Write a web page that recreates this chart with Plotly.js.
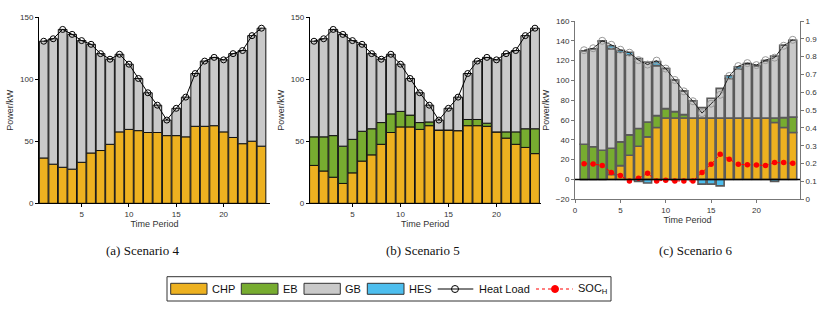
<!DOCTYPE html>
<html><head><meta charset="utf-8">
<script src="https://cdn.plot.ly/plotly-3.0.1.min.js"></script>
<style>html,body{margin:0;padding:0;background:#fff}#c{width:824px;height:311px}</style>
</head><body><div id="c"></div>
<script>
var periods = [1,2,3,4,5,6,7,8,9,10,11,12,13,14,15,16,17,18,19,20,21,22,23,24];
var heatLoad = [130.5,132.5,140,136,131,128,120.5,116,120,112,100.5,89,79,67,76.5,85.5,104.5,114.5,117.5,115.5,120.5,123,135,141];
// Scenario 4
var chp4 = [36.5,31.5,29,27.5,33,40.5,42.5,47.5,57.5,59.5,58.5,57,57,54.5,54.5,53.5,62,62,62.5,57.5,53,48,50,46];
var gb4  = [94,101,111,108.5,98,87.5,78,68.5,62.5,52.5,42,32,22,12.5,22,32,42.5,52.5,55,58,67.5,75,85,95];
// Scenario 5
var chp5 = [30.5,26,21,16,24.5,34,39,47.5,57,61.5,61.5,59.5,62.5,59,59,58.5,62.5,62.5,62,57.5,52.5,47.5,45,40];
var eb5  = [23,27.5,33.5,30,27,24,21,17.5,15,12.5,9.5,5.5,3,0,0,0,5,5,2.5,0,5,10,15,20];
var gb5  = [77,79,85.5,90,79.5,70,60.5,51,48,38,29.5,24,13.5,8,17.5,27,37,47,53,58,63,65.5,75,81];
// Scenario 6
var chp6 = [0,0,0,5,14,24.5,33.5,43,52.5,62,62,62,62,62,62,62,62,62,62,62,62,57.5,52.5,47.5];
var eb6  = [35.5,33,29.5,26.5,24,20.5,18,15,12,9.5,6.5,3.5,0,0,0,0,0,0,0,0,0,4.5,10,15.5];
var gb6  = [94.5,99,110,100.5,90.5,80.5,70.5,60.5,50.5,40.5,32,24,17.5,10.5,20,30,40,49.5,55,53,58,62.5,73,77.5];
var hes6 = [0,0,0.6,3,2,3,-2,-3.5,4,0,0,0,0,-4.7,-4.7,-6.4,2.7,2.3,0,0,0,-2,0,0];
var soc6 = [0.2,0.198,0.19,0.151,0.133,0.103,0.118,0.146,0.103,0.107,0.103,0.103,0.103,0.151,0.196,0.252,0.224,0.196,0.194,0.193,0.19,0.206,0.206,0.202];

var cCHP='#EDB120', cEB='#77AC30', cGB='#C9C9C9', cHES='#4DBEEE';
var edge12={color:'#111',width:1}, edge3={color:'#5a5a5a',width:1.6};
function bar(y,color,xa,ya,edge,w){return {type:'bar',x:periods,y:y,xaxis:xa,yaxis:ya,width:w,
  marker:{color:color,line:edge},showlegend:false,hoverinfo:'skip'};}
var data=[
  bar(chp4,cCHP,'x','y',edge12,0.92), bar(gb4,cGB,'x','y',edge12,0.92),
  {type:'scatter',mode:'lines+markers',x:periods,y:heatLoad,xaxis:'x',yaxis:'y',line:{color:'#000',width:1},
   marker:{symbol:'circle-open',size:6,color:'#000',line:{width:1}},showlegend:false},
  bar(chp5,cCHP,'x2','y2',edge12,0.92), bar(eb5,cEB,'x2','y2',edge12,0.92), bar(gb5,cGB,'x2','y2',edge12,0.92),
  {type:'scatter',mode:'lines+markers',x:periods,y:heatLoad,xaxis:'x2',yaxis:'y2',line:{color:'#000',width:1},
   marker:{symbol:'circle-open',size:6,color:'#000',line:{width:1}},showlegend:false},
  bar(chp6,cCHP,'x3','y3',edge3,0.88), bar(eb6,cEB,'x3','y3',edge3,0.88), bar(gb6,cGB,'x3','y3',edge3,0.88), bar(hes6,cHES,'x3','y3',edge3,0.88),
  {type:'scatter',mode:'lines+markers',x:periods,y:heatLoad,xaxis:'x3',yaxis:'y3',line:{color:'#222',width:1},
   marker:{symbol:'circle-open',size:7,color:'#999',line:{width:1}},showlegend:false},
  {type:'scatter',mode:'lines+markers',x:periods,y:soc6,xaxis:'x3',yaxis:'y4',line:{color:'#ff0000',width:1,dash:'dot'},
   marker:{symbol:'circle',size:5.5,color:'#ff0000'},showlegend:false}
];
function px(x){return x/824;} function py(y){return (311-y)/311;}
var tf={family:'Liberation Sans, Arial, sans-serif',size:8,color:'#333'};
var ttf={family:'Liberation Sans, Arial, sans-serif',size:9,color:'#333'};
function xax(dom,rng,anchor){return {domain:dom,range:rng,anchor:anchor,tickmode:'array',tickvals:[5,10,15,20],
  showline:true,linecolor:'#000',linewidth:1,ticks:'outside',ticklen:3,tickcolor:'#000',showgrid:false,zeroline:false,
  tickfont:tf,title:{text:'Time Period',font:ttf,standoff:2}};}
function yax(dom,rng,anchor,dt){return {domain:dom,range:rng,anchor:anchor,dtick:dt,showline:true,linecolor:'#000',linewidth:1,
  ticks:'outside',ticklen:3,tickcolor:'#000',showgrid:false,zeroline:false,tickfont:tf,title:{text:'Power/kW',font:ttf,standoff:4}};}
var ydom12=[py(203.3),py(17)], ydom3=[py(199.3),py(21)];
var layout={width:824,height:311,margin:{l:0,r:0,t:0,b:0},paper_bgcolor:'#fff',plot_bgcolor:'rgba(0,0,0,0)',
  barmode:'relative',bargap:0.05,showlegend:false,
  xaxis:xax([px(39),px(270)],[0.5,24.9],'y'),
  yaxis:yax(ydom12,[0,150],'x',50),
  xaxis2:xax([px(309.7),px(540.7)],[0.55,24.6],'y2'),
  yaxis2:yax(ydom12,[0,150],'x2',50),
  xaxis3:Object.assign(xax([px(575),px(800)],[0,24.8],'y3'),{tickvals:[0,5,10,15,20],linecolor:'#777',tickcolor:'#777'}),
  yaxis3:Object.assign(yax(ydom3,[-20,160],'x3',20),{linecolor:'#777',tickcolor:'#777'}),
  yaxis4:{domain:ydom3,range:[0,1],overlaying:'y3',anchor:'x3',side:'right',dtick:0.1,showline:true,linecolor:'#777',
    ticks:'outside',ticklen:3,tickcolor:'#777',showgrid:false,zeroline:false,tickfont:tf},
  shapes:[{type:'line',xref:'x3 domain',yref:'y3',x0:0,x1:1,y0:0,y1:0,line:{color:'#000',width:1.5},layer:'above'}],
  annotations:[]
};
var capF={family:'Liberation Serif, Times New Roman, serif',size:13,color:'#111'};
[['(a) Scenario 4',142],['(b) Scenario 5',423],['(c) Scenario 6',695]].forEach(function(c){
  layout.annotations.push({text:c[0],x:px(c[1]),y:py(250),xref:'paper',yref:'paper',showarrow:false,font:capF,xanchor:'center',yanchor:'middle'});});
// legend
var S=layout.shapes, A=layout.annotations;
S.push({type:'rect',xref:'paper',yref:'paper',x0:px(167),x1:px(611),y0:py(301),y1:py(276.7),line:{color:'#333',width:1},fillcolor:'#fff'});
var lf={family:'Liberation Sans, Arial, sans-serif',size:11,color:'#111'};
[[cCHP,170.7,207,'CHP',210],[cEB,241.3,278,'EB',280.7],[cGB,304,340.3,'GB',343.3],[cHES,367.3,404,'HES',407.3]].forEach(function(e){
  S.push({type:'rect',xref:'paper',yref:'paper',x0:px(e[1]),x1:px(e[2]),y0:py(294.3),y1:py(283.3),fillcolor:e[0],line:{color:'#333',width:1}});
  A.push({text:e[3],x:px(e[4]),y:py(289),xref:'paper',yref:'paper',showarrow:false,font:lf,xanchor:'left',yanchor:'middle'});});
S.push({type:'line',xref:'paper',yref:'paper',x0:px(437.7),x1:px(473.3),y0:py(289),y1:py(289),line:{color:'#000',width:1}});
S.push({type:'circle',xref:'paper',yref:'paper',x0:px(451.5),x1:px(458.5),y0:py(292.5),y1:py(285.5),line:{color:'#000',width:1},fillcolor:'#fff'});
S.push({type:'line',xref:'paper',yref:'paper',x0:px(451.5),x1:px(458.5),y0:py(289),y1:py(289),line:{color:'#000',width:1}});
A.push({text:'Heat Load',x:px(477.3),y:py(289),xref:'paper',yref:'paper',showarrow:false,font:lf,xanchor:'left',yanchor:'middle'});
S.push({type:'line',xref:'paper',yref:'paper',x0:px(536),x1:px(572.7),y0:py(289),y1:py(289),line:{color:'#ff0000',width:1.2,dash:'dot'}});
S.push({type:'circle',xref:'paper',yref:'paper',x0:px(551.5),x1:px(558.5),y0:py(292.5),y1:py(285.5),line:{color:'#ff0000',width:1},fillcolor:'#ff0000'});
A.push({text:'SOC<sub>H</sub>',x:px(576),y:py(289),xref:'paper',yref:'paper',showarrow:false,font:lf,xanchor:'left',yanchor:'middle'});
Plotly.newPlot('c',data,layout,{staticPlot:true,displayModeBar:false});
</script></body></html>
